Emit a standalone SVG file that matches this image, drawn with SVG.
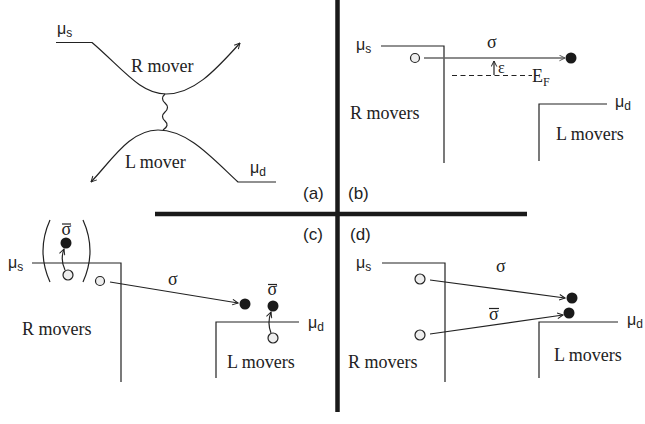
<svg xmlns="http://www.w3.org/2000/svg" width="645" height="424" viewBox="0 0 645 424">
<style>
.ln{fill:none;stroke:#222;stroke-width:1.2}
.gl{fill:none;stroke:#666;stroke-width:1.4}
.thick{stroke:#1a1a1a;stroke-width:4.5}
.serif{font-family:"Liberation Serif","Times New Roman",serif;font-size:18px;fill:#222}
.sans{font-family:"Liberation Sans",Arial,sans-serif;font-size:16px;fill:#222}
.sub{font-size:12px}
.lab{font-family:"Liberation Sans",Arial,sans-serif;font-size:17px;fill:#222}
.open{fill:#eee;stroke:#222;stroke-width:1.2}
.full{fill:#1a1a1a}
</style>
<defs>
<marker id="v" viewBox="0 0 10 10" refX="9" refY="5" markerWidth="7" markerHeight="7" markerUnits="userSpaceOnUse" orient="auto-start-reverse">
<path d="M1,1 L9,5 L1,9" fill="none" stroke="#222" stroke-width="1.4"/>
</marker>
<marker id="vg" viewBox="0 0 10 10" refX="9" refY="5" markerWidth="7" markerHeight="7" markerUnits="userSpaceOnUse" orient="auto">
<path d="M1,1 L9,5 L1,9" fill="none" stroke="#555" stroke-width="1.4"/>
</marker>
</defs>

<g id="frame">
<line class="thick" x1="337.5" y1="0" x2="337.5" y2="412"/>
<line class="thick" x1="155" y1="214" x2="527" y2="214"/>
<text class="lab" x="303" y="199">(a)</text>
<text class="lab" x="348" y="199">(b)</text>
<text class="lab" x="303" y="240">(c)</text>
<text class="lab" x="350" y="240">(d)</text>
</g>

<g id="panel-a">
<path class="ln" d="M56,42.5 L92,42.5 C122,68 140,94 166,94 C193,94 214,72 240,43" marker-end="url(#v)"/>
<path class="ln" d="M91,182 C112,160 130,130 158,130 C188,130 212,158 238,182 L276,182" marker-start="url(#v)"/>
<path class="ln" d="M165,94 q-5,4.5 0,9 q5,4.5 0,9 q-5,4.5 0,9 q5,4.5 -2,9"/>
<text class="sans" x="57" y="34">μ<tspan class="sub" dy="3">s</tspan></text>
<text class="sans" x="250" y="173">μ<tspan class="sub" dy="3">d</tspan></text>
<text class="serif" x="131" y="72">R mover</text>
<text class="serif" x="125" y="168">L mover</text>
</g>

<g id="panel-b">
<path class="ln" d="M381,46 L444,46 L444,163"/>
<path class="ln" d="M607,104 L539,104 L539,161"/>
<line class="ln" x1="452" y1="75.5" x2="532" y2="75.5" stroke-dasharray="5,3.5"/>
<line class="gl" x1="424" y1="58" x2="565" y2="58" marker-end="url(#vg)"/>
<line class="ln" x1="494" y1="75" x2="494" y2="61" marker-end="url(#v)"/>
<circle class="open" cx="415" cy="58" r="4.5"/>
<circle class="full" cx="571" cy="58" r="5.5"/>
<text class="serif" x="487" y="48">σ</text>
<text class="serif" x="498" y="73" style="font-size:16px">ε</text>
<text class="serif" x="532" y="82">E<tspan style="font-size:12px" dy="4">F</tspan></text>
<text class="sans" x="356" y="50">μ<tspan class="sub" dy="3">s</tspan></text>
<text class="sans" x="615" y="107">μ<tspan class="sub" dy="3">d</tspan></text>
<text class="serif" x="350" y="119">R movers</text>
<text class="serif" x="556" y="140">L movers</text>
</g>

<g id="panel-c">
<path class="ln" d="M32,263 L121,263 L121,382"/>
<path class="ln" d="M299,322 L216,322 L216,378"/>
<path class="ln" d="M50,220 Q36,251 50,282" stroke-width="1.4"/>
<path class="ln" d="M83,220 Q97,251 83,282" stroke-width="1.4"/>
<circle class="full" cx="66" cy="243" r="5.5"/>
<circle class="open" cx="68" cy="275" r="5"/>
<path class="ln" d="M65,270 Q60,260 64,249" marker-end="url(#v)"/>
<text class="serif" x="61.5" y="235">σ</text>
<line class="ln" x1="62" y1="224" x2="71" y2="224"/>
<circle class="open" cx="100" cy="281" r="4.5"/>
<line class="ln" x1="110" y1="282" x2="238" y2="303" marker-end="url(#v)"/>
<circle class="full" cx="245" cy="304" r="5.5"/>
<text class="serif" x="168" y="285">σ</text>
<circle class="full" cx="273" cy="306" r="5.5"/>
<circle class="open" cx="273" cy="338" r="5"/>
<path class="ln" d="M271,333 Q267,323 271,312" marker-end="url(#v)"/>
<text class="serif" x="267.5" y="295">σ</text>
<line class="ln" x1="268" y1="284.5" x2="277" y2="284.5"/>
<text class="sans" x="8" y="268">μ<tspan class="sub" dy="3">s</tspan></text>
<text class="sans" x="308" y="328">μ<tspan class="sub" dy="3">d</tspan></text>
<text class="serif" x="22" y="335">R movers</text>
<text class="serif" x="227" y="368">L movers</text>
</g>

<g id="panel-d">
<path class="ln" d="M382,263 L445,263 L445,382"/>
<path class="ln" d="M618,322 L539,322 L539,378"/>
<circle class="open" cx="420" cy="279" r="5"/>
<circle class="open" cx="420" cy="335" r="5"/>
<line class="ln" x1="430" y1="280" x2="565" y2="298" marker-end="url(#v)"/>
<line class="ln" x1="430" y1="334" x2="563" y2="315" marker-end="url(#v)"/>
<circle class="full" cx="572" cy="298" r="5.5"/>
<circle class="full" cx="569" cy="313" r="5.5"/>
<text class="serif" x="496" y="272">σ</text>
<text class="serif" x="489" y="320">σ</text>
<line class="ln" x1="489" y1="308.5" x2="499" y2="308.5"/>
<text class="sans" x="356" y="268">μ<tspan class="sub" dy="3">s</tspan></text>
<text class="sans" x="627" y="325">μ<tspan class="sub" dy="3">d</tspan></text>
<text class="serif" x="348" y="368">R movers</text>
<text class="serif" x="554" y="361">L movers</text>
</g>
</svg>
